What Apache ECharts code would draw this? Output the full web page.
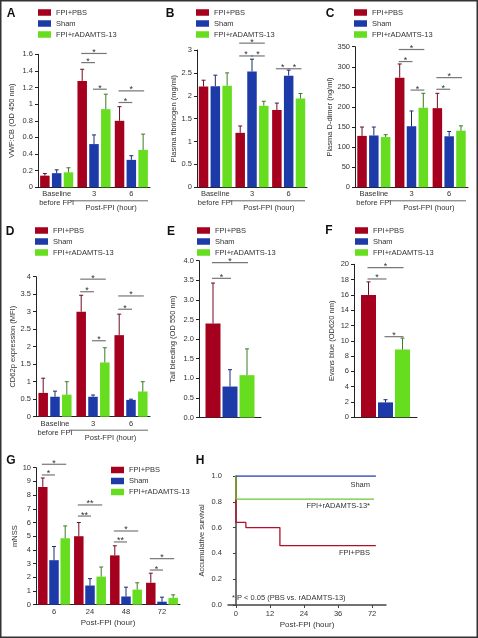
<!DOCTYPE html>
<html><head><meta charset="utf-8">
<script src="https://cdn.jsdelivr.net/npm/echarts@6/dist/echarts.min.js"></script>
<style>html,body{margin:0;padding:0;background:#fff}#c{width:478px;height:638px}</style>
</head><body><div id="c"></div>
<script>
const FONT = '"Liberation Sans Narrow","Liberation Sans",Roboto,sans-serif';
const groupNames = ['FPI+PBS', 'Sham', 'FPI+rADAMTS-13'];
const barColors = ['#A5001E', '#1C3BA8', '#66DD1E'];
const errColors = ['#6a0d1c', '#1a2a72', '#3f7a25'];
const catsABCD = ['Baseline\nbefore FPI', '3', '6'];
const catsEF = [''];
const catsG = ['6', '24', '48', '72'];

// A: VWF:CB
const aPbs = [0.14, 1.28, 0.80], aPbsSD = [0.025, 0.14, 0.17];
const aSham = [0.17, 0.52, 0.33], aShamSD = [0.04, 0.11, 0.05];
const aRad = [0.18, 0.94, 0.45], aRadSD = [0.055, 0.18, 0.19];
const aSig = [[1,0,1,1.50,1],[1,0,2,1.61,1],[1,1,2,1.18,1],[2,0,1,1.02,1],[2,0,2,1.16,1]];
// B: fibrinogen
const bPbs = [2.20, 1.19, 1.69], bPbsSD = [0.14, 0.15, 0.15];
const bSham = [2.21, 2.53, 2.44], bShamSD = [0.24, 0.27, 0.12];
const bRad = [2.22, 1.78, 1.94], bRadSD = [0.28, 0.10, 0.11];
const bSig = [[1,0,2,3.15,1],[1,0,1,2.87,1],[1,1,2,2.87,1],[2,0,1,2.59,1],[2,1,2,2.59,1]];
// C: D-dimer
const cPbs = [128, 273, 197], cPbsSD = [22, 34, 37];
const cSham = [129, 152, 127], cShamSD = [21, 38, 12];
const cRad = [125, 198, 141], cRadSD = [6, 36, 12];
const cSig = [[1,0,2,343,1],[1,0,1,313,1],[1,1,2,242,1],[2,0,1,244,1],[2,0,2,273,1]];
// D: CD62p
const dPbs = [0.68, 3.00, 2.33], dPbsSD = [0.42, 0.47, 0.60];
const dSham = [0.57, 0.57, 0.48], dShamSD = [0.16, 0.05, 0.02];
const dRad = [0.63, 1.55, 0.72], dRadSD = [0.37, 0.42, 0.28];
const dSig = [[1,0,2,3.93,1],[1,0,1,3.57,1],[1,1,2,2.17,1],[2,0,1,3.07,1],[2,0,2,3.45,1]];
// E: tail bleeding
const ePbs = [2.40], ePbsSD = [1.03];
const eSham = [0.79], eShamSD = [0.43];
const eRad = [1.08], eRadSD = [0.67];
const eSig = [[0,0,2,3.95,1],[0,0,1,3.55,1]];
// F: Evans blue
const fPbs = [16.0], fPbsSD = [1.7];
const fSham = [1.95], fShamSD = [0.35];
const fRad = [8.85], fRadSD = [1.5];
const fSig = [[0,0,2,19.56,1],[0,0,1,18.08,1],[0,1,2,10.54,1]];
// G: mNSS
const gPbs = [8.6, 5.0, 3.6, 1.6], gPbsSD = [0.65, 1.0, 0.7, 0.7];
const gSham = [3.25, 1.4, 0.6, 0.22], gShamSD = [1.0, 0.5, 0.68, 0.33];
const gRad = [4.85, 2.05, 1.1, 0.5], gRadSD = [0.9, 0.7, 0.5, 0.22];
const gSig = [[0,0,2,10.25,1],[0,0,1,9.47,1],[1,0,2,7.28,2],[1,0,1,6.47,2],[2,0,2,5.38,1],[2,0,1,4.58,2],[3,0,2,3.36,1],[3,0,1,2.53,1]];
// H: survival
const hTicks = [0, 12, 24, 36, 72];
const hPbsT = [0, 0, 3.5, 15.5, 76], hPbsS = [1, 0.64, 0.60, 0.46, 0.46];
const hRadT = [0, 0, 74], hRadS = [1, 0.82, 0.82];
const hShamT = [0, 76], hShamS = [1, 1];

function posOf(t) { return t <= 36 ? t : 36 + (t - 36) / 3; }

const panels = [
  {grid:[38,54.3,112,133], cats:catsABCD, max:1.6, interval:0.2, yName:'VWF:CB (OD 450 nm)', nameGap:22, means:[aPbs,aSham,aRad], sds:[aPbsSD,aShamSD,aRadSD], sig:aSig, bw:9.5, gap:2.3, leg:[38,8.5], group:true},
  {grid:[197,50,110,137.3], cats:catsABCD, max:3, interval:0.5, yName:'Plasma fibrinogen (mg/ml)', nameGap:17, means:[bPbs,bSham,bRad], sds:[bPbsSD,bShamSD,bRadSD], sig:bSig, bw:9.5, gap:2.3, leg:[196,8.5], group:true},
  {grid:[355,46.7,113,140.6], cats:catsABCD, max:350, interval:50, yName:'Plasma D-dimer (ng/ml)', nameGap:20, means:[cPbs,cSham,cRad], sds:[cPbsSD,cShamSD,cRadSD], sig:cSig, bw:9.5, gap:2.3, leg:[354,8.5], group:true},
  {grid:[36,276.7,114,140], cats:catsABCD, max:4, interval:0.5, yName:'CD62p expression (MFI)', nameGap:19, means:[dPbs,dSham,dRad], sds:[dPbsSD,dShamSD,dRadSD], sig:dSig, bw:9.5, gap:2.3, leg:[35,226.5], group:true},
  {grid:[199,260.7,62,156.8], cats:catsEF, max:4, interval:0.5, yName:'Tail bleeding (OD 550 nm)', nameGap:22, means:[ePbs,eSham,eRad], sds:[ePbsSD,eShamSD,eRadSD], sig:eSig, bw:15, gap:2, leg:[197,226.5], fmt:v=>v.toFixed(1)},
  {grid:[354,264.3,63,153], cats:catsEF, max:20, interval:2, yName:'Evans blue (OD620 nm)', nameGap:18, means:[fPbs,fSham,fRad], sds:[fPbsSD,fShamSD,fRadSD], sig:fSig, bw:15, gap:2, leg:[355,226.5]},
  {grid:[36,467.7,144,137], cats:catsG, max:10, interval:1, yName:'mNSS', nameGap:16, means:[gPbs,gSham,gRad], sds:[gPbsSD,gShamSD,gRadSD], sig:gSig, bw:9.5, gap:1.7, leg:[111,466], xName:'Post-FPI (hour)', xNameGap:14}
];

const txt = (o) => Object.assign({fontFamily: FONT, color: '#333'}, o);

function makeErr(bw, gap) {
  return function (params, api) {
    const cat = api.value(0), s = api.value(1), m = api.value(2), sd = api.value(3);
    const c = api.coord([cat, m]), t = api.coord([cat, m + sd]);
    const x = c[0] + (s - 1) * (bw + gap);
    const st = {stroke: errColors[s], lineWidth: 1};
    return {type: 'group', children: [
      {type: 'line', shape: {x1: x, y1: c[1], x2: x, y2: t[1]}, style: st},
      {type: 'line', shape: {x1: x - 2, y1: t[1], x2: x + 2, y2: t[1]}, style: st}
    ]};
  };
}
function makeSig(bw, gap) {
  return function (params, api) {
    const cat = api.value(0), f = api.value(1), to = api.value(2), y = api.value(3), n = api.value(4);
    const c = api.coord([cat, y]);
    const step = bw + gap;
    const x1 = c[0] + (f - 1) * step - 1, x2 = c[0] + (to - 1) * step + 1;
    return {type: 'group', children: [
      {type: 'line', shape: {x1: x1, y1: c[1], x2: x2, y2: c[1]}, style: {stroke: '#777', lineWidth: 1.2}},
      {type: 'text', style: {text: '*'.repeat(n), x: (x1 + x2) / 2, y: c[1] - 1, align: 'center', verticalAlign: 'middle', fontSize: 9, fill: '#333', fontFamily: FONT}}
    ]};
  };
}
function groupLabel(params, api) {
  const p1 = api.coord([api.value(0), 0]), p2 = api.coord([api.value(1), 0]);
  const bwid = api.size([1, 0])[0];
  const x1 = p1[0] - bwid / 2 - 5, x2 = p2[0] + bwid / 2 - 2, y = p1[1] + 13.5;
  return {type: 'group', children: [
    {type: 'line', shape: {x1: x1, y1: y, x2: x2, y2: y}, style: {stroke: '#666', lineWidth: 1}},
    {type: 'text', style: {text: 'Post-FPI (hour)', x: (x1 + x2) / 2 + 2, y: y + 7.5, align: 'center', verticalAlign: 'middle', fontSize: 7.5, fill: '#333', fontFamily: FONT}}
  ]};
}

const grids = [], xAxes = [], yAxes = [], series = [], legends = [];
panels.forEach((p, i) => {
  grids.push({left: p.grid[0], top: p.grid[1], width: p.grid[2], height: p.grid[3]});
  xAxes.push({gridIndex: i, type: 'category', data: p.cats,
    axisLine: {lineStyle: {color: '#222', width: 1}}, axisTick: {show: false},
    axisLabel: txt({show: p.cats[0] !== '', fontSize: 7.5, margin: 2.5, lineHeight: 9, interval: 0}),
    splitLine: {show: false},
    name: p.xName || '', nameLocation: 'middle', nameGap: p.xNameGap || 0, nameTextStyle: txt({fontSize: 8})});
  yAxes.push({gridIndex: i, type: 'value', min: 0, max: p.max, interval: p.interval,
    name: p.yName, nameLocation: 'middle', nameGap: p.nameGap, nameTextStyle: txt({fontSize: 7.5}),
    axisLine: {show: true, lineStyle: {color: '#222', width: 1}},
    axisTick: {show: true, length: 3, lineStyle: {color: '#222'}},
    axisLabel: txt({fontSize: 7.5, margin: 5, formatter: p.fmt}),
    splitLine: {show: false}});
  for (let s = 0; s < 3; s++) {
    series.push({type: 'bar', name: groupNames[s], xAxisIndex: i, yAxisIndex: i, data: p.means[s],
      barWidth: p.bw, barGap: (p.gap / p.bw * 100) + '%', itemStyle: {color: barColors[s]}});
  }
  const errData = [];
  for (let s = 0; s < 3; s++) p.means[s].forEach((m, c) => errData.push([c, s, m, p.sds[s][c]]));
  series.push({type: 'custom', xAxisIndex: i, yAxisIndex: i, data: errData, encode: {x: 0, y: 2}, renderItem: makeErr(p.bw, p.gap), z: 5});
  series.push({type: 'custom', xAxisIndex: i, yAxisIndex: i, data: p.sig, encode: {x: 0, y: 3}, renderItem: makeSig(p.bw, p.gap), z: 5});
  if (p.group) series.push({type: 'custom', xAxisIndex: i, yAxisIndex: i, data: [[1, 2]], encode: {x: 0, y: 1}, renderItem: groupLabel, z: 5});
  legends.push({left: p.leg[0], top: p.leg[1], orient: 'vertical', itemWidth: 13, itemHeight: 6.5, itemGap: 3, icon: 'rect', padding: 0,
    selectedMode: false, data: groupNames, textStyle: txt({fontSize: 7.5})});
});

// H panel
const hi = panels.length;
grids.push({left: 228, top: 476, width: 158, height: 129});
const hPos = hTicks.map(posOf);
xAxes.push({gridIndex: hi, type: 'value', min: -2.8, max: 52.9,
  axisLine: {onZero: false, lineStyle: {color: '#444', width: 1.5}},
  axisTick: {show: true, length: 3, customValues: hPos, lineStyle: {color: '#444'}},
  axisLabel: txt({fontSize: 7.5, margin: 5, customValues: hPos, formatter: v => String(hTicks[hPos.indexOf(v)] ?? '')}),
  splitLine: {show: false},
  name: 'Post-FPI (hour)', nameLocation: 'middle', nameGap: 16, nameTextStyle: txt({fontSize: 8})});
yAxes.push({gridIndex: hi, type: 'value', min: 0, max: 1, interval: 0.2,
  name: 'Accumulative survival', nameLocation: 'middle', nameGap: 22, nameTextStyle: txt({fontSize: 7.5}),
  axisLine: {show: true, lineStyle: {color: '#444', width: 1.5}},
  axisTick: {show: true, length: 3, lineStyle: {color: '#444'}},
  axisLabel: txt({fontSize: 7.5, margin: 6, formatter: v => v.toFixed(1)}),
  splitLine: {show: false}});
const hLine = (name, T, S, color) => ({type: 'line', name: name, xAxisIndex: hi, yAxisIndex: hi, step: 'end', symbol: 'none',
  data: T.map((t, k) => [posOf(t), S[k]]), lineStyle: {color: color, width: 1.3}, itemStyle: {color: color}, z: 3});
series.push(hLine('FPI+PBS', hPbsT, hPbsS, '#B0102A'));
series.push(hLine('FPI+rADAMTS-13', hRadT, hRadS, '#6CC830'));
series.push(hLine('Sham', hShamT, hShamS, '#2A44B0'));

const letter = (t, x, y) => ({type: 'text', x: x, y: y, style: {text: t, fontSize: 12, fontWeight: 'bold', fontFamily: '"Liberation Sans",Arial,sans-serif', fill: '#111', align: 'center', verticalAlign: 'middle'}});
const note = (t, x, y, align) => ({type: 'text', x: x, y: y, style: {text: t, fontSize: 7.5, fontFamily: FONT, fill: '#333', align: align, verticalAlign: 'middle'}});

const chart = echarts.init(document.getElementById('c'), null, {renderer: 'canvas'});
chart.setOption({
  animation: false,
  backgroundColor: '#fff',
  grid: grids, xAxis: xAxes, yAxis: yAxes, series: series, legend: legends,
  graphic: [
    {type: 'rect', shape: {x: 0.75, y: 0.75, width: 476.5, height: 636.5}, style: {fill: null, stroke: '#333', lineWidth: 1.5}, silent: true},
    letter('A', 11, 14), letter('B', 170, 14), letter('C', 330, 14),
    letter('D', 10, 231.5), letter('E', 171, 231.5), letter('F', 329, 231),
    letter('G', 11, 460.5), letter('H', 200, 460.5),
    note('Sham', 370, 484.5, 'right'),
    note('FPI+rADAMTS-13*', 370, 506, 'right'),
    note('FPI+PBS', 370, 552.5, 'right'),
    note('* P < 0.05 (PBS vs. rADAMTS-13)', 232, 597.5, 'left')
  ]
});
</script></body></html>
